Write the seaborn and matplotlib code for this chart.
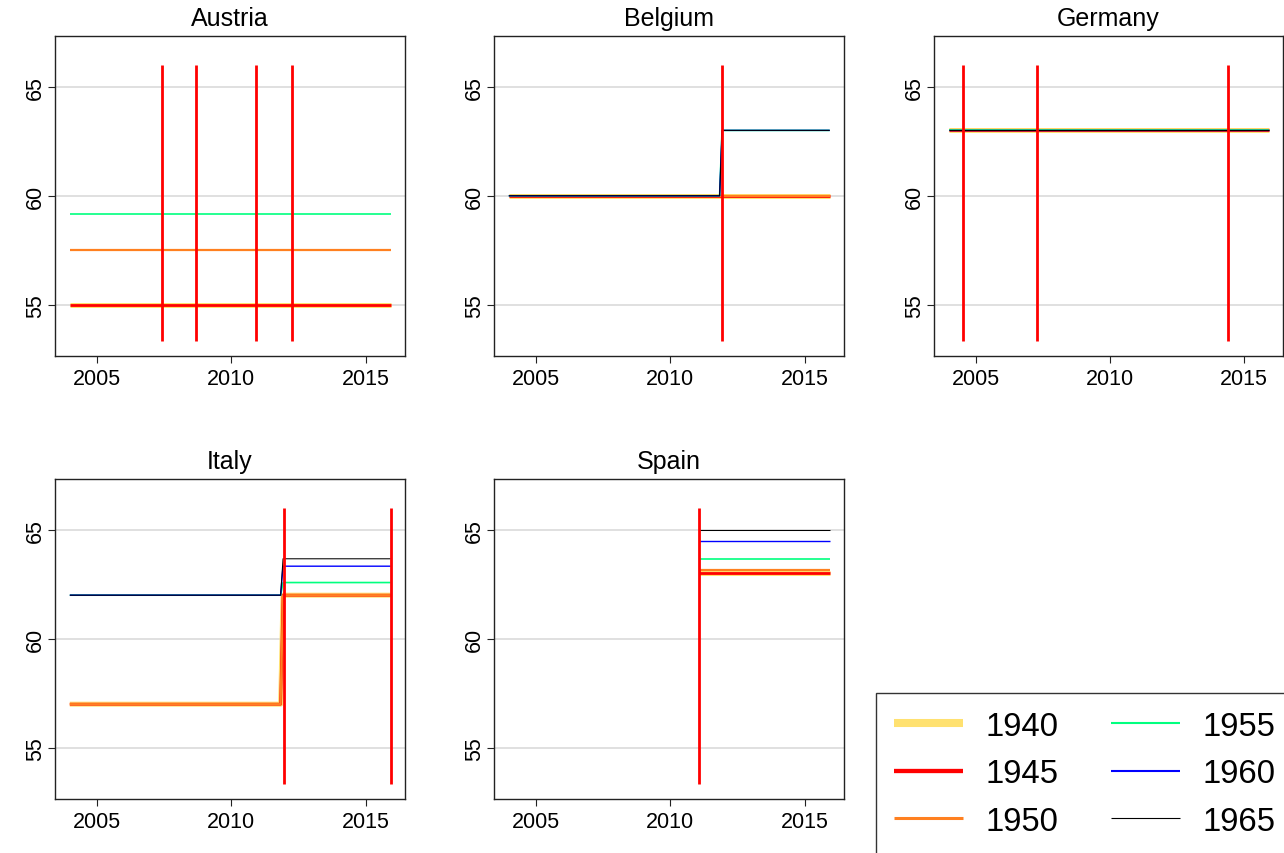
import pandas as pd
import numpy as np
import matplotlib
matplotlib.use("Agg")
import matplotlib.pyplot as plt
from matplotlib.lines import Line2D
import seaborn as sns

sns.set_style("white")
plt.rcParams['font.family'] = ['Liberation Sans', 'DejaVu Sans']
plt.rcParams['text.color'] = 'black'
plt.rcParams['xtick.labelcolor'] = 'black'
plt.rcParams['ytick.labelcolor'] = 'black'
plt.rcParams['lines.solid_capstyle'] = 'butt'

# cohorts and styles
cohorts = [1940, 1945, 1950, 1955, 1960, 1965]
cohort_colors = ["#FFE170", "#FF0000", "#FF8020", "#00FF7F", "#0000FF", "#000000"]
cohort_widths = [3.6, 2.0, 1.6, 1.2, 1.0, 0.75]

# retirement age by cohort, breakpoints
aut_years = [2004.0, 2015.92]
aut_ages = {1940: [55, 55], 1945: [55, 55], 1950: [57.5, 57.5], 1955: [59.17, 59.17]}
aut_reforms = [2007.44, 2008.67, 2010.93, 2012.27]

bel_years = [2004.0, 2011.83, 2011.92, 2015.92]
bel_ages = {1940: [60, 60, 60, 60], 1945: [60, 60, 60, 60], 1950: [60, 60, 60, 60],
            1955: [60, 60, 63, 63], 1960: [60, 60, 63, 63], 1965: [60, 60, 63, 63]}
bel_reforms = [2011.92]

deu_years = [2004.0, 2015.92]
deu_ages = {1940: [63, 63], 1945: [63, 63], 1950: [63, 63],
            1955: [63, 63], 1960: [63, 63], 1965: [63, 63]}
deu_reforms = [2004.53, 2007.27, 2014.40]

ita_years = [2004.0, 2011.83, 2011.92, 2015.92]
ita_ages = {1940: [57, 57, 62, 62], 1945: [57, 57, 62, 62], 1950: [57, 57, 62, 62],
            1955: [62, 62, 62.58, 62.58], 1960: [62, 62, 63.33, 63.33],
            1965: [62, 62, 63.67, 63.67]}
ita_reforms = [2011.94, 2015.92]

esp_years = [2011.08, 2015.92]
esp_ages = {1940: [63, 63], 1945: [63, 63], 1950: [63.17, 63.17],
            1955: [63.67, 63.67], 1960: [64.5, 64.5], 1965: [65, 65]}
esp_reforms = [2011.06]

countries = ["Austria", "Belgium", "Germany", "Italy", "Spain"]
panels = [(aut_years, aut_ages, aut_reforms), (bel_years, bel_ages, bel_reforms),
          (deu_years, deu_ages, deu_reforms), (ita_years, ita_ages, ita_reforms),
          (esp_years, esp_ages, esp_reforms)]

W, H = 1284, 854
# axes boxes in pixels: left, top, right, bottom
boxes = [(55, 37, 405, 357), (494, 37, 844, 357), (934, 37, 1283, 357),
         (55, 480, 405, 800), (494, 480, 844, 800)]

palette = dict(zip(cohorts, cohort_colors))
sizes = dict(zip(cohorts, cohort_widths))

fig = plt.figure(figsize=(W / 100, H / 100), dpi=100)

for name, (years, ages, reforms), (l, t, r, b) in zip(countries, panels, boxes):
    ax = fig.add_axes([l / W, 1 - b / H, (r - l) / W, (b - t) / H])
    rows = []
    for c in cohorts:
        if c in ages:
            for y, a in zip(years, ages[c]):
                rows.append({"year": y, "age": a, "cohort": c})
    df = pd.DataFrame(rows)
    present = [c for c in cohorts if c in ages]
    sns.lineplot(data=df, x="year", y="age", hue="cohort", size="cohort",
                 hue_order=present, size_order=present,
                 palette=palette, sizes=sizes, estimator=None,
                 legend=False, ax=ax)
    ax.vlines(reforms, 53.33, 66.0, color="#FF0000", lw=2.0, zorder=5)

    ax.set_xlim(2003.45, 2016.45)
    ax.set_ylim(52.65, 67.33)
    ax.set_xticks([2005, 2010, 2015])
    ax.set_yticks([55, 60, 65])
    ax.yaxis.grid(True, color="#DDDDDD", lw=1.3)
    ax.xaxis.grid(False)
    ax.set_axisbelow(True)
    ax.set_xlabel("")
    ax.set_ylabel("")
    ax.set_title(name, fontsize=18, pad=8)
    ax.tick_params(axis="both", direction="out", length=5, width=0.8,
                   color="#222222", labelsize=15.5, bottom=True, left=True)
    ax.tick_params(axis="x", pad=4)
    ax.tick_params(axis="y", pad=1.5)
    for lab in ax.get_yticklabels():
        lab.set_rotation(90)
        lab.set_va("center")
    for s in ax.spines.values():
        s.set_color("#222222")
        s.set_linewidth(1.0)

legend_widths = [5.8, 3.1, 2.2, 1.5, 1.5, 0.8]
handles = [Line2D([], [], color=c, lw=w, solid_capstyle="butt")
           for c, w in zip(cohort_colors, legend_widths)]
leg = fig.legend(handles, [str(c) for c in cohorts], ncol=2,
                 loc="upper left", bbox_to_anchor=(876 / W, 1 - 694 / H),
                 borderaxespad=0, fontsize=23.7, frameon=True, fancybox=False,
                 shadow=False, handlelength=2.1, handletextpad=0.68,
                 columnspacing=1.6, labelspacing=0.5, borderpad=0.54)
leg.get_frame().set_edgecolor("#000000")
leg.get_frame().set_linewidth(1.0)

fig.savefig("out.png", dpi=100)
